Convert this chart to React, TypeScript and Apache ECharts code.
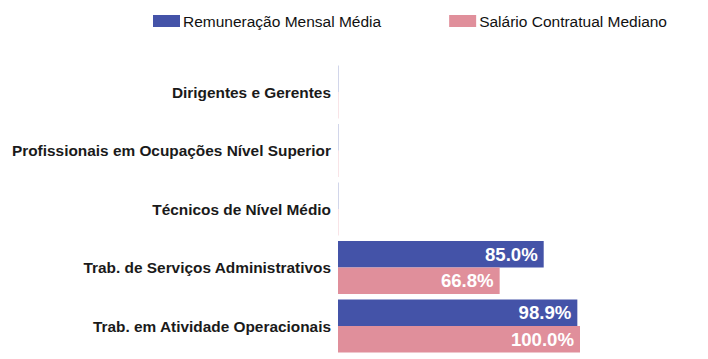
import React, { useEffect, useRef } from "react";
import * as echarts from "echarts";

const categories = [
  "Dirigentes e Gerentes",
  "Profissionais em Ocupações Nível Superior",
  "Técnicos de Nível Médio",
  "Trab. de Serviços Administrativos",
  "Trab. em Atividade Operacionais",
];
const remuneracao = [0.1, 0.1, 0.1, 85.0, 98.9];
const salario = [0.1, 0.1, 0.1, 66.8, 100.0];
const seriesNames = ["Remuneração Mensal Média", "Salário Contratual Mediano"];

export default function App() {
  const ref = useRef<HTMLDivElement>(null);
  useEffect(() => {
    document.body.style.margin = "0";
    if (!ref.current) return;
    const chart = echarts.init(ref.current, undefined, { renderer: "svg" });
    const font = "Liberation Sans, Arial, sans-serif";
    const label = {
      show: true,
      position: "insideRight",
      distance: 6,
      color: "#ffffff",
      fontWeight: "bold",
      fontSize: 18.6,
      fontFamily: font,
      formatter: (p: any) => (p.value >= 1 ? p.value.toFixed(1) + "%" : ""),
    };
    chart.setOption({
      animation: false,
      legend: {
        top: 13,
        left: 153,
        padding: 0,
        itemWidth: 27,
        itemHeight: 12,
        itemGap: 68,
        icon: "rect",
        textStyle: { fontSize: 15.5, color: "#111", fontFamily: font, padding: [0, 0, 0, -2] },
        data: seriesNames,
      },
      grid: { left: 338, right: 128, top: 62.75, bottom: 3.75, containLabel: false },
      xAxis: { type: "value", min: 0, max: 100, show: false },
      yAxis: {
        type: "category",
        data: categories,
        inverse: true,
        axisLine: { show: false },
        axisTick: { show: false },
        axisLabel: {
          margin: 7,
          fontSize: 15.4,
          fontWeight: "bold",
          color: "#1a1a1a",
          fontFamily: font,
        },
      },
      series: [
        {
          name: seriesNames[0],
          type: "bar",
          data: remuneracao,
          barGap: "0%",
          barCategoryGap: "9%",
          itemStyle: { color: "#4453a8" },
          label,
        },
        {
          name: seriesNames[1],
          type: "bar",
          data: salario,
          barGap: "0%",
          barCategoryGap: "9%",
          itemStyle: { color: "#e08f9b" },
          label,
        },
      ],
    });
    return () => chart.dispose();
  }, []);
  return <div ref={ref} style={{ width: 708, height: 359 }} />;
}
